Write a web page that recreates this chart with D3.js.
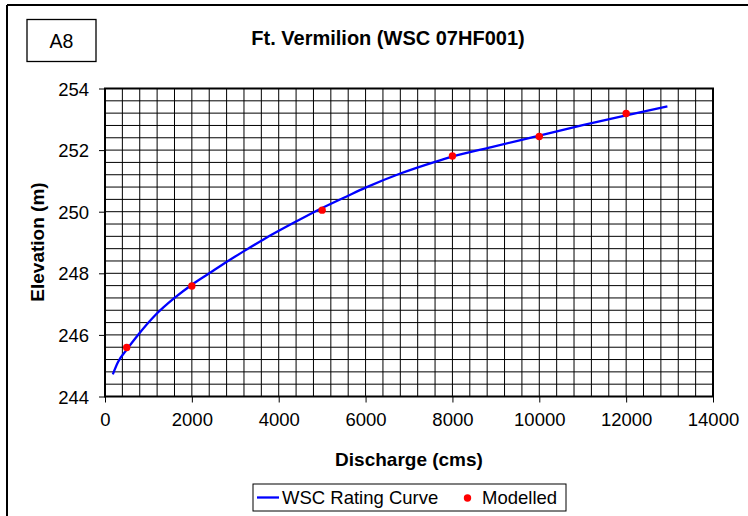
<!DOCTYPE html>
<html>
<head>
<meta charset="utf-8">
<script src="https://cdn.jsdelivr.net/npm/d3@7"></script>
<style>
  html, body { margin: 0; padding: 0; background: #fff; }
  svg { display: block; font-family: "Liberation Sans", Arial, sans-serif; }
</style>
</head>
<body>
<svg id="chart" width="748" height="516"></svg>
<script>
// Rating curve (discharge in cms, elevation in m)
const curveDischarge = [180, 300, 500, 750, 1150, 1600, 2000, 2400, 2700, 3200, 3650, 4400, 5000, 5600, 6000, 6800, 7600, 8000, 8900, 10000, 11000, 12000, 12950];
const curveElevation = [244.72, 245.12, 245.52, 245.98, 246.63, 247.20, 247.63, 248.00, 248.28, 248.72, 249.10, 249.68, 250.12, 250.52, 250.78, 251.24, 251.62, 251.79, 252.10, 252.47, 252.81, 253.13, 253.42];

// Modelled results
const modelDischarge = [500, 2000, 5000, 8000, 10000, 12000];
const modelElevation = [245.59, 247.59, 250.05, 251.81, 252.44, 253.19];

const xTicks = [0, 2000, 4000, 6000, 8000, 10000, 12000, 14000];
const yTicks = [244, 246, 248, 250, 252, 254];

const svg = d3.select("#chart");
const plot = { left: 105, right: 713, top: 88.5, bottom: 396.5 };

const x = d3.scaleLinear().domain([0, 14000]).range([plot.left, plot.right]);
const y = d3.scaleLinear().domain([244, 254]).range([plot.bottom, plot.top]);

// Page frame (top and left edges)
svg.append("line").attr("x1", 7).attr("x2", 748).attr("y1", 5).attr("y2", 5)
  .attr("stroke", "#000").attr("stroke-width", 2);
svg.append("line").attr("x1", 7).attr("x2", 7).attr("y1", 5).attr("y2", 516)
  .attr("stroke", "#000").attr("stroke-width", 2);

// Figure id box
svg.append("rect").attr("x", 27).attr("y", 19.5).attr("width", 69).attr("height", 42)
  .attr("fill", "none").attr("stroke", "#000").attr("stroke-width", 1.3);
svg.append("text").attr("x", 61.5).attr("y", 48).attr("text-anchor", "middle")
  .attr("font-size", 19.5).text("A8");

// Title
svg.append("text").attr("x", 388).attr("y", 45).attr("text-anchor", "middle")
  .attr("font-size", 20).attr("font-weight", "bold").text("Ft. Vermilion (WSC 07HF001)");

// Grid
const gx = d3.range(0, 14001, 400);
const gy = d3.range(0, 26).map(i => 244 + i * 0.4);
const grid = svg.append("g").attr("stroke", "#000").attr("stroke-width", 1);
grid.selectAll("line.v").data(gx).join("line").attr("class", "v")
  .attr("x1", d => x(d)).attr("x2", d => x(d)).attr("y1", plot.top).attr("y2", plot.bottom);
grid.selectAll("line.h").data(gy).join("line").attr("class", "h")
  .attr("x1", plot.left).attr("x2", plot.right).attr("y1", d => y(d)).attr("y2", d => y(d));

// Axes
const xAxis = d3.axisBottom(x).tickValues(xTicks).tickFormat(d3.format("d")).tickSize(6).tickPadding(10);
const yAxis = d3.axisLeft(y).tickValues(yTicks).tickFormat(d3.format("d")).tickSize(6).tickPadding(10);

const gxA = svg.append("g").attr("transform", `translate(0,${plot.bottom})`).call(xAxis);
const gyA = svg.append("g").attr("transform", `translate(${plot.left},0)`).call(yAxis);
[gxA, gyA].forEach(g => {
  g.select(".domain").remove();
  g.selectAll(".tick line").attr("stroke", "#000");
  g.selectAll(".tick text").attr("font-size", 18.5).attr("fill", "#000")
    .attr("font-family", "\"Liberation Sans\", Arial, sans-serif");
});
gyA.selectAll(".tick text").attr("dy", "0.36em");

// Plot frame
svg.append("rect").attr("x", plot.left).attr("y", plot.top)
  .attr("width", plot.right - plot.left).attr("height", plot.bottom - plot.top)
  .attr("fill", "none").attr("stroke", "#000").attr("stroke-width", 2);

// Axis titles
svg.append("text").attr("x", 409).attr("y", 466).attr("text-anchor", "middle")
  .attr("font-size", 19).attr("font-weight", "bold").text("Discharge (cms)");
svg.append("text").attr("transform", "translate(44,242) rotate(-90)").attr("text-anchor", "middle")
  .attr("font-size", 19).attr("font-weight", "bold").text("Elevation (m)");

// Rating curve
const curveData = curveDischarge.map((q, i) => [q, curveElevation[i]]);
svg.append("path").datum(curveData)
  .attr("fill", "none").attr("stroke", "#0000FF").attr("stroke-width", 2.3)
  .attr("d", d3.line().x(d => x(d[0])).y(d => y(d[1])).curve(d3.curveMonotoneX));

// Modelled points
const modelData = modelDischarge.map((q, i) => [q, modelElevation[i]]);
svg.selectAll("circle.model").data(modelData).join("circle").attr("class", "model")
  .attr("cx", d => x(d[0])).attr("cy", d => y(d[1])).attr("r", 3.7).attr("fill", "#FF0000");

// Legend
const lg = svg.append("g");
lg.append("rect").attr("x", 253).attr("y", 484).attr("width", 313).attr("height", 27)
  .attr("fill", "#fff").attr("stroke", "#000").attr("stroke-width", 1);
lg.append("line").attr("x1", 257).attr("x2", 279).attr("y1", 497.5).attr("y2", 497.5)
  .attr("stroke", "#0000FF").attr("stroke-width", 2.3);
lg.append("text").attr("x", 282).attr("y", 504).attr("font-size", 18.5).text("WSC Rating Curve");
lg.append("circle").attr("cx", 467.5).attr("cy", 498).attr("r", 3.7).attr("fill", "#FF0000");
lg.append("text").attr("x", 482).attr("y", 504).attr("font-size", 18.5).text("Modelled");
</script>
</body>
</html>
